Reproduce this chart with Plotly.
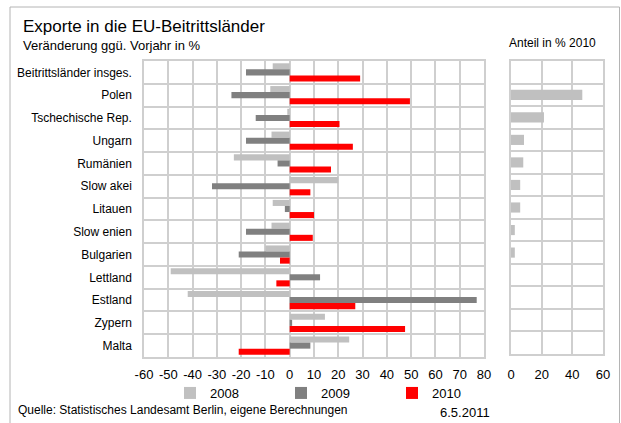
import plotly.graph_objects as go

W, H = 621, 423

categories = ["Beitrittsländer insges.", "Polen", "Tschechische Rep.", "Ungarn", "Rumänien",
              "Slow akei", "Litauen", "Slow enien", "Bulgarien", "Lettland", "Estland",
              "Zypern", "Malta"]
v2008 = [-7, -8, -1, -7.5, -23, 20, -7, -7.5, -10, -49, -42, 14.5, 24.5]
v2009 = [-18, -24, -14, -18, -5, -32, -2, -18, -21, 12.5, 77, 1, 8.5]
v2010 = [29, 49.5, 20.5, 26, 17, 8.5, 10, 9.5, -4, -5.5, 27, 47.5, -21]
share2010 = [None, 46.5, 21.5, 8.5, 8, 6, 6, 2.5, 2.5, None, None, None, None]

main_ticks = list(range(-60, 81, 10))
main_ticklabels = [str(v) for v in main_ticks]
share_ticks = [0, 20, 40, 60]
share_ticklabels = [str(v) for v in share_ticks]

FONT = "Liberation Sans, Arial, sans-serif"
GRID = "#cfcfcf"

def px_x(p):
    return p / W

def px_y(p):
    return 1 - p / H

fig = go.Figure()
fig.add_trace(go.Bar(y=categories, x=v2008, orientation="h", name="2008",
                     marker=dict(color="#c0c0c0", line=dict(width=0)), xaxis="x", yaxis="y"))
fig.add_trace(go.Bar(y=categories, x=v2009, orientation="h", name="2009",
                     marker=dict(color="#808080", line=dict(width=0)), xaxis="x", yaxis="y"))
fig.add_trace(go.Bar(y=categories, x=v2010, orientation="h", name="2010",
                     marker=dict(color="#ff0000", line=dict(width=0)), xaxis="x", yaxis="y"))
fig.add_trace(go.Bar(y=categories, x=share2010, orientation="h", name="Anteil 2010",
                     showlegend=False, width=0.45,
                     marker=dict(color="#c0c0c0", line=dict(width=0)), xaxis="x2", yaxis="y2"))

axis_common = dict(showgrid=True, gridcolor=GRID, gridwidth=1.5, zeroline=False,
                   showline=True, linecolor=GRID, linewidth=1.5, mirror=True, ticks="",
                   automargin=False)

fig.update_layout(
    width=W, height=H,
    margin=dict(l=0, r=0, t=0, b=0, autoexpand=False),
    paper_bgcolor="white", plot_bgcolor="white",
    barmode="group", bargap=0.2, bargroupgap=0,
    font=dict(family=FONT, size=12, color="#000"),
    xaxis=dict(domain=[px_x(144), px_x(484)], range=[-60, 80], tickvals=main_ticks,
               ticktext=main_ticklabels, anchor="y", ticklabelstandoff=5, tickangle=0,
               tickfont=dict(family=FONT, size=13, color="#000"), **axis_common),
    yaxis=dict(domain=[px_y(357), px_y(61)], type="category", categoryorder="array",
               categoryarray=categories, autorange="reversed", tickson="boundaries",
               anchor="x", ticklabelstandoff=8,
               tickfont=dict(family=FONT, size=12, color="#000"), **axis_common),
    xaxis2=dict(domain=[px_x(511), px_x(603)], range=[0, 60], tickvals=share_ticks,
                ticktext=share_ticklabels, anchor="y2", ticklabelstandoff=8, tickangle=0,
                tickfont=dict(family=FONT, size=13, color="#000"), **axis_common),
    yaxis2=dict(domain=[px_y(354), px_y(61)], type="category", categoryorder="array",
                categoryarray=categories, autorange="reversed", tickson="boundaries",
                anchor="x2", showticklabels=False, **axis_common),
    legend=dict(orientation="h", x=px_x(170), xanchor="left", y=px_y(393), yanchor="middle",
                entrywidth=66, entrywidthmode="pixels",
                font=dict(family=FONT, size=13, color="#000"), bgcolor="rgba(0,0,0,0)",
                tracegroupgap=0, itemclick=False),
    showlegend=True,
)

annos = [
    dict(text="Exporte in die EU-Beitrittsländer", x=px_x(21), y=px_y(27), size=17),
    dict(text="Veränderung ggü. Vorjahr in %", x=px_x(21), y=px_y(45), size=13),
    dict(text="Anteil in % 2010", x=px_x(507), y=px_y(43), size=12),
    dict(text="Quelle: Statistisches Landesamt Berlin, eigene Berechnungen", x=px_x(16), y=px_y(410), size=12),
    dict(text="6.5.2011", x=px_x(438), y=px_y(412), size=13),
]
for a in annos:
    fig.add_annotation(text=a["text"], x=a["x"], y=a["y"], xref="paper", yref="paper",
                       xanchor="left", yanchor="middle", showarrow=False,
                       font=dict(family=FONT, size=a["size"], color="#000"))

fig.add_shape(type="rect", xref="paper", yref="paper",
              x0=px_x(10), x1=px_x(619.5), y0=-0.05, y1=px_y(7),
              line=dict(color="#b4b4b4", width=1), fillcolor="rgba(0,0,0,0)", layer="below")

fig.write_html("out.html", config={"displayModeBar": False},
               post_script="document.body.style.margin='0';document.body.style.overflow='hidden';")
